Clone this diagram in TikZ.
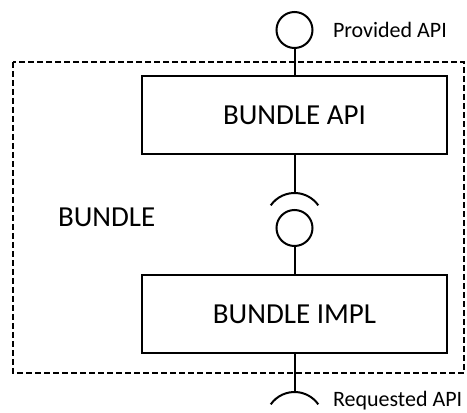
\documentclass[tikz,border=0pt]{standalone}
\usepackage{fontspec}
\setmainfont{Carlito}
\begin{document}
\begin{tikzpicture}[x=1pt,y=1pt,line width=2pt,
  comp/.style={draw, minimum width=305pt, minimum height=78pt, inner sep=0pt, font=\fontsize{29}{34}\selectfont},
  ball/.style={draw, circle, minimum size=36pt, inner sep=0pt},
  lbl/.style={anchor=base west, inner sep=0pt, font=\fontsize{22}{26}\selectfont},
  bndl/.style={draw, dash pattern=on 6pt off 3pt}]
\useasboundingbox (0,0) rectangle (467,413);
\clip (0,0) rectangle (467,413);
% bundle boundary
\draw[bndl] (13,351) rectangle (464,40);
\node[anchor=base west, inner sep=0pt, font=\fontsize{29}{34}\selectfont] (bundle) at (57,186) {BUNDLE};
% components
\node[comp] (api) at (294.5,298) {BUNDLE API};
\node[comp] (impl) at (294.5,99) {BUNDLE IMPL};
% provided interface
\node[ball] (prov) at (294.5,383) {};
\node[lbl] (provlbl) at (332,375) {Provided API};
% internal socket and ball
\coordinate (smc) at (294.5,191);
\coordinate (smtop) at (294.5,220);
\node[ball] (ballmid) at (294.5,185) {};
% requested interface
\coordinate (sbc) at (294.5,-8);
\coordinate (sbtop) at (294.5,21);
\node[lbl] (reqlbl) at (332,6) {Requested API};
% connectors
\draw (prov) -- (api);
\draw (api) -- (smtop);
\draw ([shift={(145:29)}]smc) arc[start angle=145, end angle=35, radius=29];
\draw (ballmid) -- (impl);
\draw (impl) -- (sbtop);
\draw ([shift={(145:29)}]sbc) arc[start angle=145, end angle=35, radius=29];
\end{tikzpicture}
\end{document}
